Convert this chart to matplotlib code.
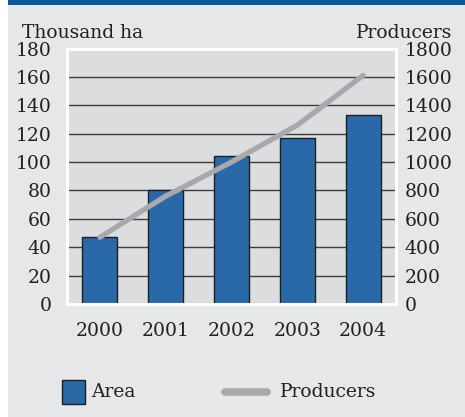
import matplotlib
matplotlib.use("Agg")
import matplotlib.pyplot as plt
from matplotlib.patches import Rectangle
from matplotlib.lines import Line2D

years = ["2000", "2001", "2002", "2003", "2004"]
area = [47, 80, 104, 117, 133]               # thousand ha
producers = [470, 760, 1000, 1260, 1610]     # number of producers
area_ticks = list(range(0, 181, 20))
producer_ticks = list(range(0, 1801, 200))

W, H = 465, 417
plt.rcParams["font.family"] = "DejaVu Serif"
FS = 13.5
TXT = "#231f20"

fig = plt.figure(figsize=(W / 100, H / 100), dpi=100, facecolor="#e6e7e8")

# white strip on the left and blue band on top
fig.patches.append(Rectangle((0, 0), 8 / W, 1, transform=fig.transFigure,
                             facecolor="white", edgecolor="none", zorder=0))
fig.patches.append(Rectangle((8 / W, 1 - 5 / H), 1, 5 / H, transform=fig.transFigure,
                             facecolor="#0b5aa0", edgecolor="none", zorder=0))

ax = fig.add_axes([67 / W, (H - 304) / H, 329 / W, 255.5 / H])
ax.set_facecolor("#dcdddf")
ax.set_axisbelow(True)

x = list(range(len(years)))
ax.bar(x, area, width=0.53, color="#2a69a8", edgecolor="#1f1f1f", linewidth=1.0, zorder=2)
ax.set_xlim(-0.5, len(years) - 0.5)
ax.set_ylim(area_ticks[0], area_ticks[-1])
ax.set_yticks(area_ticks)
ax.set_xticks(x)
ax.set_xticklabels(years)
ax.yaxis.grid(True, color="#3c3c3c", linewidth=1.0)
ax.tick_params(axis="both", length=0, labelsize=FS, colors=TXT)
ax.tick_params(axis="y", pad=11)
ax.tick_params(axis="x", pad=13)
for s in ax.spines.values():
    s.set_color("white")
    s.set_linewidth(2.2)
    s.set_zorder(3)

ax2 = ax.twinx()
ax2.plot(x, producers, color="#a7a9ac", linewidth=3.8, solid_capstyle="round",
         solid_joinstyle="round", zorder=4)
ax2.set_ylim(producer_ticks[0], producer_ticks[-1])
ax2.set_yticks(producer_ticks)
ax2.tick_params(axis="y", length=0, labelsize=FS, colors=TXT, pad=6)
for s in ax2.spines.values():
    s.set_color("white")
    s.set_linewidth(2.2)

# axis titles
fig.text(22 / W, 1 - 38 / H, "Thousand ha", fontsize=FS, color=TXT, ha="left", va="baseline")
fig.text(452 / W, 1 - 38 / H, "Producers", fontsize=FS, color=TXT, ha="right", va="baseline")

# legend
fig.patches.append(Rectangle((62 / W, 1 - 404 / H), 23 / W, 24 / H, transform=fig.transFigure,
                             facecolor="#2a69a8", edgecolor="#1f1f1f", linewidth=1.0))
fig.text(91 / W, 1 - 392 / H, "Area", fontsize=FS, color=TXT, ha="left", va="center")
fig.lines.append(Line2D([225 / W, 267 / W], [1 - 392 / H, 1 - 392 / H], transform=fig.transFigure,
                        color="#a7a9ac", linewidth=5.5, solid_capstyle="round"))
fig.text(280 / W, 1 - 392 / H, "Producers", fontsize=FS, color=TXT, ha="left", va="center")

fig.savefig("out.png", dpi=100, facecolor=fig.get_facecolor())
